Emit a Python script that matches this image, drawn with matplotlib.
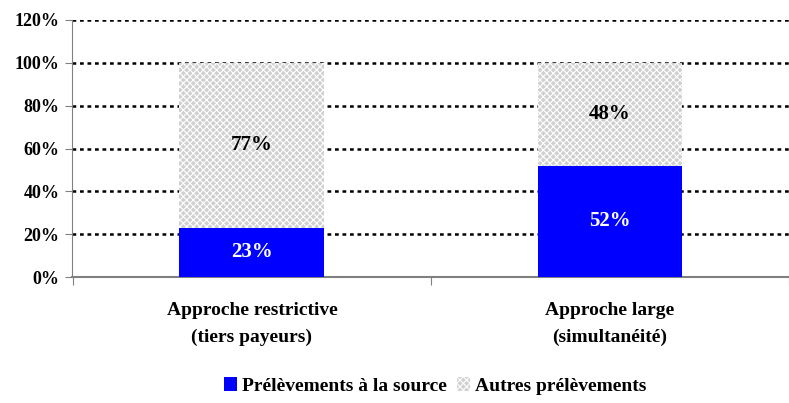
import matplotlib
matplotlib.use("Agg")
import matplotlib.pyplot as plt
from matplotlib.patches import Patch
import matplotlib as mpl

plt.rcParams['font.family'] = ['Liberation Serif', 'DejaVu Serif']
plt.rcParams['font.weight'] = 'bold'
mpl.rcParams['hatch.color'] = 'white'
mpl.rcParams['hatch.linewidth'] = 0.8

categories = ["Approche restrictive\n(tiers payeurs)", "Approche large\n(simultanéité)"]
source = [23, 52]
autres = [77, 48]
series_names = ["Prélèvements à la source", "Autres prélèvements"]
yticks = [0, 20, 40, 60, 80, 100, 120]

W, H = 789, 403
fig = plt.figure(figsize=(W/100, H/100), dpi=100)
ax = fig.add_axes([72/W, 1-277/H, (789-72)/W, (277-20)/H])

x = list(range(len(categories)))
bw = 0.405
ax.bar(x, source, width=bw, color='#0000ff', zorder=3)
ax.bar(x, autres, width=bw, bottom=source, color='#d0d0d0', hatch='xxxxx', edgecolor='white', linewidth=0, zorder=3)

for xi, s, a in zip(x, source, autres):
    ax.text(xi, s/2, f"{s}%", ha='center', va='center', color='white', fontsize=15, fontweight='bold', zorder=4)
    ax.text(xi, s + a/2, f"{a}%", ha='center', va='center', color='black', fontsize=15, fontweight='bold', zorder=4)

ax.set_ylim(0, 120)
ax.set_xlim((72-254.5)/363, (789-254.5)/363)
ax.set_yticks(yticks)
ax.set_yticklabels([f"{v}%" for v in yticks], fontsize=13, fontweight='bold')
for v in yticks[1:]:
    ax.axhline(v, color='black', linestyle=(0, (1.5, 1.5)), linewidth=1.8, zorder=1)

ax.set_xticks([-0.5, 0.5, 1.5])
ax.set_xticklabels([])
ax.set_xticks(x, minor=True)
ax.set_xticklabels(categories, minor=True, fontsize=14, fontweight='bold', linespacing=1.75)
ax.tick_params(axis='x', which='minor', length=0, pad=18)
ax.tick_params(axis='x', which='major', length=6, direction='out', color='#808080')
ax.tick_params(axis='y', length=5, direction='out', color='#808080', pad=4)
for sp in ['top', 'right']:
    ax.spines[sp].set_visible(False)
ax.spines['left'].set_color('#808080')
ax.spines['bottom'].set_color('#808080')
ax.spines['bottom'].set_linewidth(1.5)

handles = [Patch(facecolor='#0000ff', label=series_names[0]),
           Patch(facecolor='#d0d0d0', hatch='xxxxx', edgecolor='white', linewidth=0, label=series_names[1])]
fig.legend(handles=handles, loc='center', bbox_to_anchor=(435/W, 1-386/H), ncol=2, frameon=False,
           handlelength=0.7, handleheight=0.7, handletextpad=0.25, columnspacing=0.5,
           prop={'weight': 'bold', 'size': 14})

fig.savefig("out.png", dpi=100)
